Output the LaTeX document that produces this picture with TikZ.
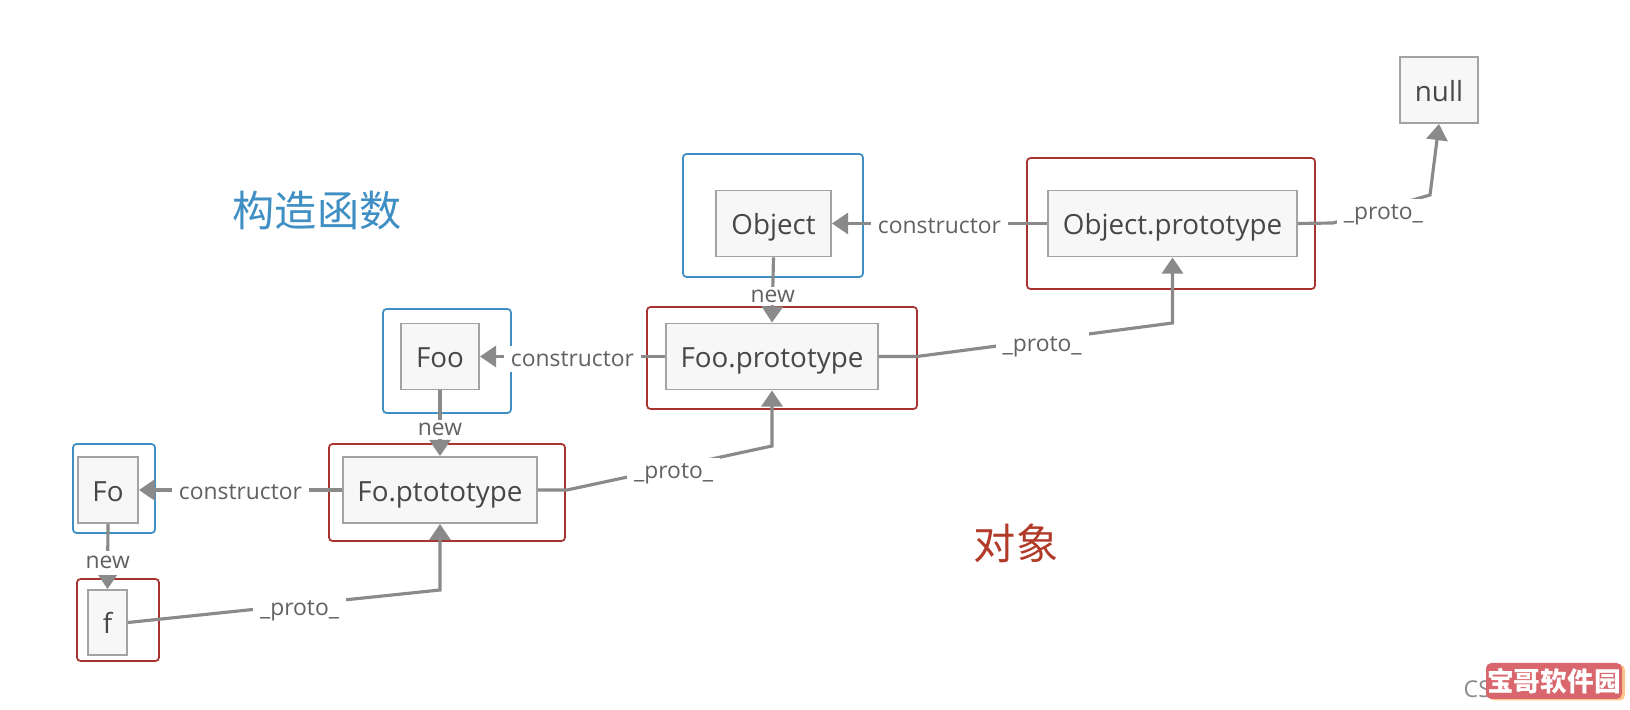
\documentclass[tikz,border=0pt]{standalone}
\usepackage{fontspec}
\usepackage{xcolor}
\usepackage{tikz}
\usetikzlibrary{arrows.meta}
\setmainfont{Open Sans}
\newfontfamily\cjkfont{Noto Sans CJK SC}
\definecolor{linegray}{HTML}{8A8A8A}
\definecolor{boxgray}{HTML}{A3A3A3}
\definecolor{ctorblue}{HTML}{3F8FC4}
\definecolor{objred}{HTML}{A8322D}
\definecolor{badgered}{HTML}{D8666C}

\begin{document}
\begin{tikzpicture}[
    inner_box/.style = {draw=boxgray, line width=0.55pt, fill=black!3, inner sep=0pt, text=black!72, text height=6.9pt, text depth=0.5pt, font=\fontsize{7.9}{9}\selectfont},
    blue_box/.style = {draw=ctorblue, line width=0.5pt, rounded corners=1pt, inner sep=0pt},
    red_box/.style = {draw=objred, line width=0.5pt, rounded corners=1pt, inner sep=0pt},
    link/.style = {draw=linegray, line width=0.9pt, -{Triangle[length=4.6pt, width=6pt]}},
    link_label/.style = {fill=white, inner xsep=2pt, inner ysep=1.5pt, yshift=-0.6pt, text=black!62, font=\fontsize{6.5}{8}\selectfont},
    new_label/.style = {link_label, inner ysep=0.8pt, yshift=-1.2pt},
    proto_label/.style = {link_label, yshift=-1.2pt}
]
    \useasboundingbox (0, 0) rectangle (16.3, 7.1);

    % outer frames
    \node[red_box, minimum width=2.88cm, minimum height=1.31cm] (objPBox) at (11.71, 4.865) {};
    \node[blue_box, minimum width=1.80cm, minimum height=1.23cm] (objBox) at (7.73, 4.945) {};
    \node[red_box, minimum width=2.70cm, minimum height=1.02cm] (fooPBox) at (7.82, 3.52) {};
    \node[blue_box, minimum width=1.28cm, minimum height=1.04cm] (fooBox) at (4.47, 3.49) {};
    \node[red_box, minimum width=2.36cm, minimum height=0.97cm] (foPBox) at (4.47, 2.175) {};
    \node[blue_box, minimum width=0.82cm, minimum height=0.89cm] (foBox) at (1.14, 2.215) {};
    \node[red_box, minimum width=0.82cm, minimum height=0.82cm] (fBox) at (1.18, 0.90) {};

    % inner boxes
    \node[inner_box, minimum width=0.78cm, minimum height=0.66cm] (null) at (14.39, 6.20) {null};
    \node[inner_box, minimum width=2.49cm, minimum height=0.66cm] (objP) at (11.725, 4.865) {Object.prototype};
    \node[inner_box, minimum width=1.15cm, minimum height=0.66cm] (obj) at (7.735, 4.865) {Object};
    \node[inner_box, minimum width=2.12cm, minimum height=0.66cm] (fooP) at (7.72, 3.535) {Foo.prototype};
    \node[inner_box, minimum width=0.78cm, minimum height=0.66cm] (foo) at (4.40, 3.535) {Foo};
    \node[inner_box, minimum width=1.94cm, minimum height=0.66cm] (foP) at (4.40, 2.20) {Fo.ptototype};
    \node[inner_box, minimum width=0.60cm, minimum height=0.66cm] (fo) at (1.08, 2.20) {Fo};
    \node[inner_box, minimum width=0.39cm, minimum height=0.65cm] (f) at (1.075, 0.875) {f};

    \coordinate (fBend) at (4.40, 1.20);
    \coordinate (foPKink) at (5.67, 2.20);
    \coordinate (foPBend) at (7.72, 2.64);
    \coordinate (fooPKink) at (9.17, 3.535);
    \coordinate (fooPBend) at (11.725, 3.87);
    \coordinate (objPKink) at (13.33, 4.87);
    \coordinate (objPBend) at (14.30, 5.15);

    \draw[link] (objP.west) -- node[link_label] (ctorObj) {constructor} (obj.east);
    \draw[link] (fooP.west) -- node[link_label] (ctorFoo) {constructor} (foo.east);
    \draw[link] (foP.west) -- node[link_label] (ctorFo) {constructor} (fo.east);

    \draw[link] (obj.south) -- node[new_label] (newFoo) {new} (fooP.north);
    \draw[link] (foo.south) -- node[new_label] (newFo) {new} (foP.north);
    \draw[link] (fo.south) -- node[new_label, inner ysep=1.6pt] (newF) {new} (f.north);

    \draw[link] (f.east) -- node[proto_label, pos=0.55] (protoF) {\_proto\_} (fBend) -- (foP.south);
    \draw[link] (foP.east) -- (foPKink) -- node[proto_label, pos=0.52] (protoFo) {\_proto\_} (foPBend) -- (fooP.south);
    \draw[link] (fooP.east) -- (fooPKink) -- node[proto_label, pos=0.49] (protoFoo) {\_proto\_} (fooPBend) -- (objP.south);
    \draw[link] (objP.east) -- (objPKink) -- node[proto_label, pos=0.52] (protoObj) {\_proto\_} (objPBend) -- (null.south);

    \node[text=ctorblue, font=\cjkfont\fontsize{12}{14}\selectfont] (ctorTitle) at (3.17, 4.99) {构造函数};
    \node[text=objred!90!orange, font=\cjkfont\fontsize{12}{14}\selectfont] (objTitle) at (10.16, 1.67) {对象};

    % watermark
    \node[text=black!45, anchor=west, inner sep=0pt, font=\fontsize{6.6}{8}\selectfont] (csdn) at (14.63, 0.21) {CS};
    \node[fill=orange!45, rounded corners=1.5pt, minimum width=1.36cm, minimum height=0.36cm, inner sep=0pt] (badgeShade) at (15.57, 0.275) {};
    \node[fill=badgered, rounded corners=1.5pt, minimum width=1.36cm, minimum height=0.36cm, inner sep=0pt, text=white, font=\cjkfont\bfseries\fontsize{7.6}{9}\selectfont] (badge) at (15.54, 0.29) {宝哥软件园};
\end{tikzpicture}
\end{document}
